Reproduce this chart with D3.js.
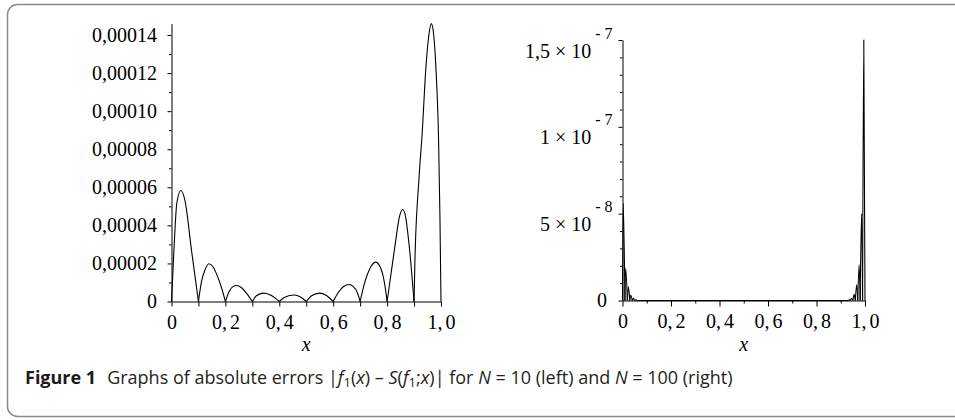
<!DOCTYPE html>
<html>
<head>
<meta charset="utf-8">
<script src="https://cdn.jsdelivr.net/npm/d3@7"></script>
<style>
  html, body { margin: 0; padding: 0; background: #fff; }
  svg { display: block; }
  .axis text { font-family: "Liberation Serif", "Times New Roman", serif; font-size: 20px; fill: #000; }
  .axis path, .axis line { stroke: #000; stroke-width: 1; }
  .xlab { font-family: "Liberation Serif", serif; font-style: italic; font-size: 20px; fill: #000; }
  .caption { font-family: "Open Sans", "Noto Sans", sans-serif; font-size: 18px; fill: #231f20; }
</style>
</head>
<body>
<div id="chart"></div>
<script>
// N = 10 : |f1(x) - S(f1;x)| (zéros aux noeuds 0, 0.1, ..., 1)
const leftErr = [
  [0, 0], [0.009, 2.7e-5], [0.02, 5.2e-5], [0.035, 5.83e-5], [0.05, 5.3e-5], [0.075, 2.6e-5], [0.1, 0],
  [0.112, 1.1e-5], [0.124, 1.65e-5], [0.139, 1.98e-5], [0.155, 1.8e-5], [0.167, 1.45e-5], [0.185, 0.75e-5], [0.2, 0],
  [0.215, 0.55e-5], [0.228, 0.78e-5], [0.241, 0.84e-5], [0.26, 0.72e-5], [0.28, 0.4e-5], [0.3, 0],
  [0.315, 0.3e-5], [0.34, 0.44e-5], [0.365, 0.36e-5], [0.385, 0.18e-5], [0.4, 0],
  [0.42, 0.22e-5], [0.455, 0.34e-5], [0.48, 0.22e-5], [0.5, 0],
  [0.52, 0.3e-5], [0.549, 0.44e-5], [0.575, 0.32e-5], [0.6, 0],
  [0.62, 0.5e-5], [0.64, 0.8e-5], [0.658, 0.89e-5], [0.675, 0.78e-5], [0.69, 0.45e-5], [0.7, 0],
  [0.715, 0.9e-5], [0.735, 1.7e-5], [0.757, 2.07e-5], [0.775, 1.8e-5], [0.79, 1.0e-5], [0.8, 0],
  [0.815, 1.5e-5], [0.83, 3.0e-5], [0.845, 4.4e-5], [0.858, 4.83e-5], [0.868, 4.5e-5], [0.88, 3.2e-5], [0.9, 0],
  [0.903, 2.0e-5], [0.918, 6.4e-5], [0.93, 8.8e-5], [0.944, 12.3e-5], [0.955, 14.0e-5], [0.964, 14.6e-5],
  [0.973, 14.0e-5], [0.981, 12.3e-5], [0.991, 8.5e-5], [0.996, 4.5e-5], [1.0, 0]
];

// N = 100 : erreurs concentrées aux bords
const rightErr = [
  [0, 0], [0.003, 5.6e-8], [0.01, 0],
  [0.013, 1.85e-8], [0.02, 0],
  [0.024, 0.8e-8], [0.03, 0],
  [0.034, 0.32e-8], [0.04, 0],
  [0.044, 0.12e-8], [0.05, 0],
  [0.055, 0.04e-8], [0.06, 0],
  [0.93, 0],
  [0.937, 0.04e-8], [0.94, 0],
  [0.945, 0.12e-8], [0.95, 0],
  [0.955, 0.35e-8], [0.96, 0],
  [0.966, 0.9e-8], [0.97, 0],
  [0.976, 2.05e-8], [0.98, 0],
  [0.986, 5.0e-8], [0.99, 0],
  [0.995, 1.5e-7], [1.0, 0]
];

// ticks
const xMajor = [0, 0.2, 0.4, 0.6, 0.8, 1.0];
const xMinor = [0.1, 0.3, 0.5, 0.7, 0.9];
const leftYMajor = [0, 2e-5, 4e-5, 6e-5, 8e-5, 10e-5, 12e-5, 14e-5];
const leftYMinor = [1e-5, 3e-5, 5e-5, 7e-5, 9e-5, 11e-5, 13e-5];
const rightYMajor = [0, 5e-8, 10e-8, 15e-8];
const rightYMinor = [1e-8, 2e-8, 3e-8, 4e-8, 6e-8, 7e-8, 8e-8, 9e-8, 11e-8, 12e-8, 13e-8, 14e-8];
const rightYMant = ['0', '5', '1', '1,5'];
const rightYExp = ['', '8', '7', '7'];

const width = 955, height = 420;
const locale = d3.formatLocale({ decimal: ',', thousands: '.', grouping: [3], currency: ['', ''] });
const fmtX = v => v === 0 ? '0' : locale.format('.1f')(v);
const fmtY = v => v === 0 ? '0' : locale.format('.5f')(v);

const svg = d3.select('#chart').append('svg')
  .attr('width', width)
  .attr('height', height);

// cadre arrondi de la figure
svg.append('rect')
  .attr('x', 7.5).attr('y', 4.5)
  .attr('width', 970).attr('height', 412)
  .attr('rx', 10)
  .attr('fill', 'none')
  .attr('stroke', '#8a8a8a')
  .attr('stroke-width', 1.5);

const line = (x, y) => d3.line()
  .x(d => x(d[0]))
  .y(d => y(d[1]))
  .curve(d3.curveMonotoneX);

// coupe la série aux zéros pour garder les pointes en V
function splitAtZeros(data) {
  const segs = [];
  let cur = [data[0]];
  for (let i = 1; i < data.length; i++) {
    cur.push(data[i]);
    if (data[i][1] === 0) {
      segs.push(cur);
      cur = [data[i]];
    }
  }
  if (cur.length > 1) segs.push(cur);
  return segs;
}

function drawPanel(cfg) {
  const g = svg.append('g');
  const x = d3.scaleLinear().domain([0, 1]).range(cfg.xRange);
  const y = d3.scaleLinear().domain(cfg.yDomain).range(cfg.yRange);

  // courbe
  g.append('g').selectAll('path')
    .data(splitAtZeros(cfg.data))
    .join('path')
    .attr('d', line(x, y))
    .attr('fill', 'none')
    .attr('stroke', '#000')
    .attr('stroke-width', 1.1);

  // axe x
  const xAxis = g.append('g').attr('class', 'axis')
    .attr('transform', `translate(0,${cfg.yRange[0]})`)
    .call(d3.axisBottom(x).tickValues(xMajor).tickFormat(fmtX)
      .tickSize(cfg.xMajorLen).tickPadding(13 - cfg.xMajorLen).tickSizeOuter(0));
  // un peu d'espace après la virgule, comme sur l'original
  xAxis.selectAll('.tick text').each(function(d) {
    const s = fmtX(d);
    if (s.indexOf(',') < 0) return;
    const [a, b] = s.split(',');
    const t = d3.select(this).text(null);
    t.append('tspan').text(a + ',');
    t.append('tspan').attr('dx', 3).text(b);
  });
  g.append('g').attr('class', 'axis')
    .attr('transform', `translate(0,${cfg.yRange[0]})`)
    .call(d3.axisBottom(x).tickValues(xMinor).tickFormat('')
      .tickSize(cfg.xMinorLen).tickSizeOuter(0))
    .call(a => a.select('.domain').remove());

  // axe y
  const yAxis = g.append('g').attr('class', 'axis')
    .attr('transform', `translate(${cfg.xRange[0]},0)`)
    .call(d3.axisLeft(y).tickValues(cfg.yMajor).tickFormat(cfg.yFormat)
      .tickSize(4).tickPadding(cfg.yPad).tickSizeOuter(0));
  g.append('g').attr('class', 'axis')
    .attr('transform', `translate(${cfg.xRange[0]},0)`)
    .call(d3.axisLeft(y).tickValues(cfg.yMinor).tickFormat('')
      .tickSize(2.5).tickSizeOuter(0))
    .call(a => a.select('.domain').remove());

  // libellé x
  g.append('text')
    .attr('class', 'xlab')
    .attr('x', (cfg.xRange[0] + cfg.xRange[1]) / 2)
    .attr('y', 351)
    .attr('text-anchor', 'middle')
    .text('x');

  return { g, x, y, yAxis };
}

// panneau gauche, N = 10
drawPanel({
  data: leftErr,
  xRange: [171.5, 441],
  yDomain: [0, 14.6e-5],
  yRange: [301.5, 23.6],
  yMajor: leftYMajor,
  yMinor: leftYMinor,
  yFormat: fmtY,
  yPad: 10.5,
  xMajorLen: 5,
  xMinorLen: 5
});

// panneau droit, N = 100
const right = drawPanel({
  data: rightErr,
  xRange: [622.5, 865],
  yDomain: [0, 15e-8],
  yRange: [300.5, 40],
  yMajor: rightYMajor,
  yMinor: rightYMinor,
  yFormat: d => '',
  yPad: 6,
  xMajorLen: 6,
  xMinorLen: 3
});

// libellés en notation scientifique « a × 10^-n »
right.yAxis.selectAll('.tick text').each(function(d) {
  const i = rightYMajor.indexOf(d);
  const t = d3.select(this);
  if (i === 0) {
    t.attr('x', -15.5).text(rightYMant[i]);
    return;
  }
  t.attr('dy', 17).text(null);
  t.append('tspan').text(rightYMant[i] + ' × 10');
  t.append('tspan').attr('dx', 4).attr('dy', -19).attr('font-size', '16px').text('- ' + rightYExp[i]);
});

// légende de la figure
const cap = svg.append('text')
  .attr('class', 'caption')
  .attr('x', 25)
  .attr('y', 384);

const capParts = [
  { t: 'Figure 1', w: 'bold' },
  { t: 'Graphs of absolute errors |', dx: 11 },
  { t: 'f', i: true },
  { t: '1', sub: true },
  { t: '(', up: true },
  { t: 'x', i: true },
  { t: ') – ' },
  { t: 'S', i: true },
  { t: '(' },
  { t: 'f', i: true },
  { t: '1', sub: true },
  { t: ';', up: true },
  { t: 'x', i: true },
  { t: ')| for ' },
  { t: 'N', i: true },
  { t: ' = 10 (left) and ' },
  { t: 'N', i: true },
  { t: ' = 100 (right)' }
];

capParts.forEach(p => {
  const s = cap.append('tspan').text(p.t);
  if (p.w) s.attr('font-weight', p.w).attr('fill', '#1a1a1a');
  if (p.dx) s.attr('dx', p.dx);
  if (p.i) s.attr('font-style', 'italic');
  if (p.sub) s.attr('font-size', '13px').attr('dy', 3);
  if (p.up) s.attr('dy', -3);
});
</script>
</body>
</html>
